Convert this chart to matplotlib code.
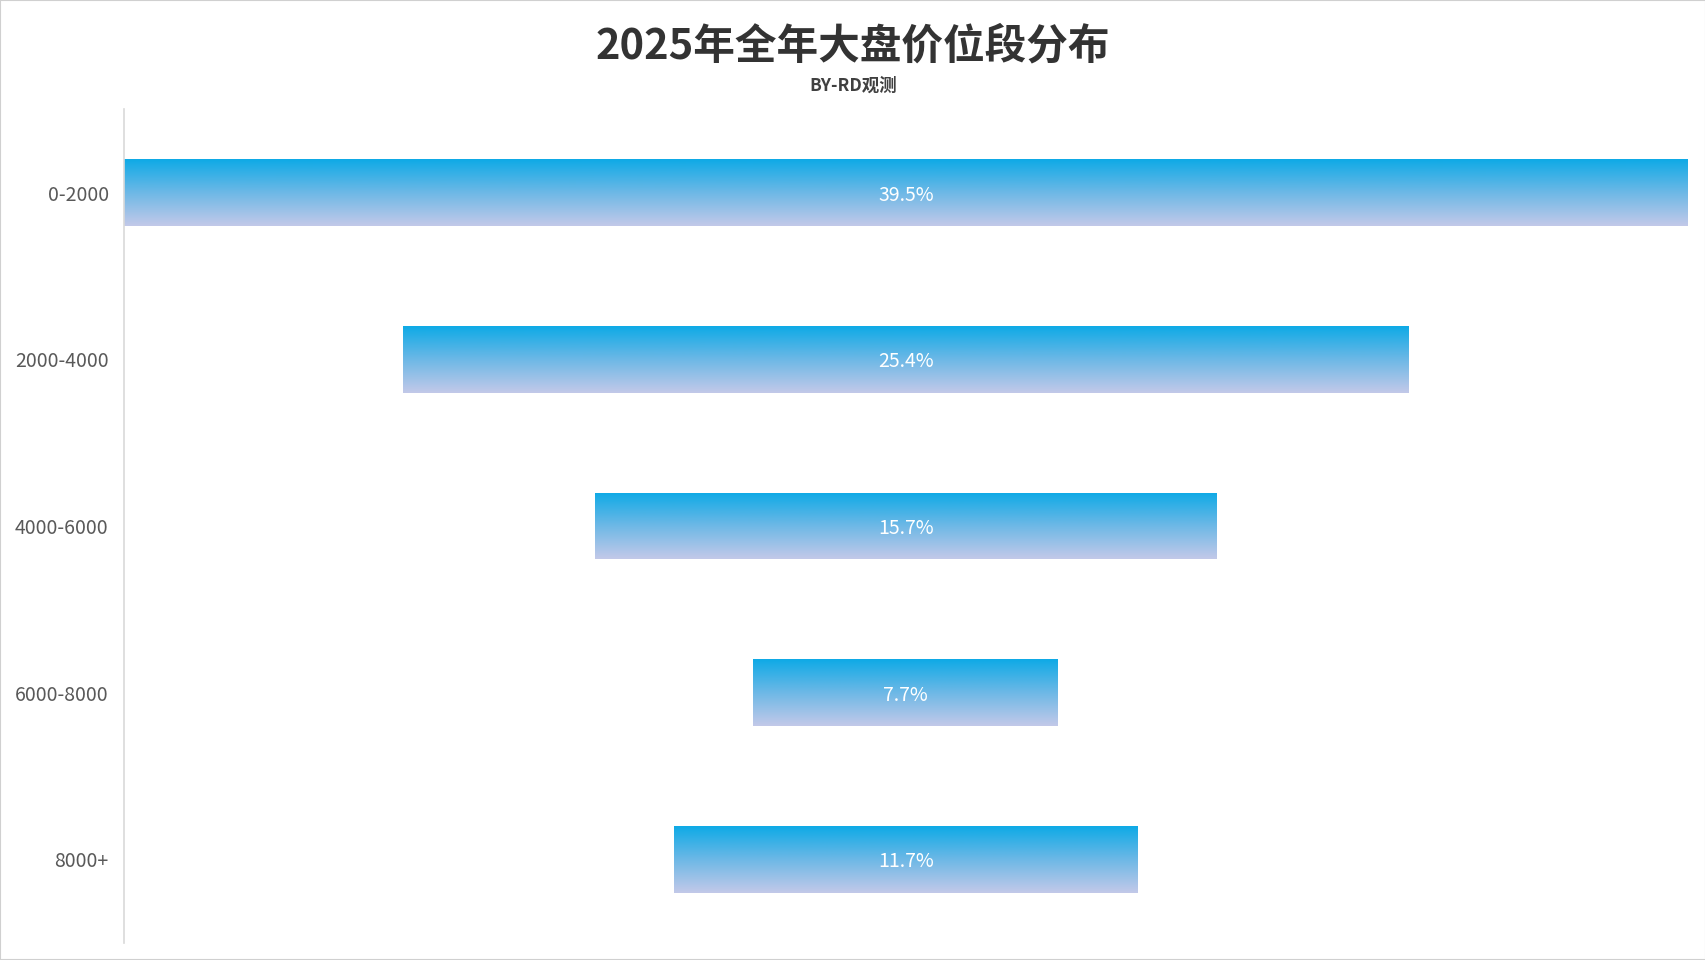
import numpy as np
import matplotlib
matplotlib.use("Agg")
from matplotlib import pyplot as plt
from matplotlib.colors import LinearSegmentedColormap

plt.rcParams['font.family'] = ['Noto Sans CJK SC', 'DejaVu Sans']

categories = ["0-2000", "2000-4000", "4000-6000", "6000-8000", "8000+"]
shares = [39.5, 25.4, 15.7, 7.7, 11.7]
labels = ["39.5%", "25.4%", "15.7%", "7.7%", "11.7%"]

title = "2025年全年大盘价位段分布"
subtitle = "BY-RD观测"

fig = plt.figure(figsize=(17.06, 9.6), dpi=100)
ax = fig.add_axes([0.0727, 0.018, 0.9165, 0.868])

vals = np.array(shares)
top = vals.max()
lefts = (top - vals) / 2
y = np.arange(len(categories))

bars = ax.barh(y, vals, left=lefts, height=0.4, color="none", edgecolor="none")

# vertical gradient fill, clipped to each bar
grad_cmap = LinearSegmentedColormap.from_list("g", ["#0EAAE6", "#6DB8E6", "#C3C9E9"])
grad = np.linspace(0, 1, 256).reshape(-1, 1)
for b in bars:
    x0, y0 = b.get_x(), b.get_y()
    w, h = b.get_width(), b.get_height()
    im = ax.imshow(grad, cmap=grad_cmap, aspect="auto",
                   extent=[x0, x0 + w, y0 + h, y0], origin="upper", zorder=2)
    im.set_clip_path(b)

for yi, l, v, lab in zip(y, lefts, vals, labels):
    ax.text(l + v / 2, yi + 0.015, lab, ha="center", va="center", color="white",
            fontsize=14, zorder=3)

ax.set_xlim(0, top)
ax.set_ylim(4.5, -0.5)
ax.set_yticks(y)
ax.set_yticklabels(categories, fontsize=14, color="#595959")
ax.tick_params(axis="y", length=0, pad=11)
ax.set_xticks([])
for s in ["top", "right", "bottom"]:
    ax.spines[s].set_visible(False)
ax.spines["left"].set_color("#D9D9D9")
ax.spines["left"].set_linewidth(1.2)

fig.text(0.5, 0.952, title, ha="center", va="center", fontsize=30,
         fontweight="bold", color="#333333")
fig.text(0.5, 0.911, subtitle, ha="center", va="center", fontsize=12.5,
         fontweight="bold", color="#404040")

fig.patches.append(plt.Rectangle((0, 0), 1, 1, transform=fig.transFigure,
                                 fill=False, edgecolor="#D0D0D0", linewidth=1.5))

fig.savefig("out.png", dpi=100)
